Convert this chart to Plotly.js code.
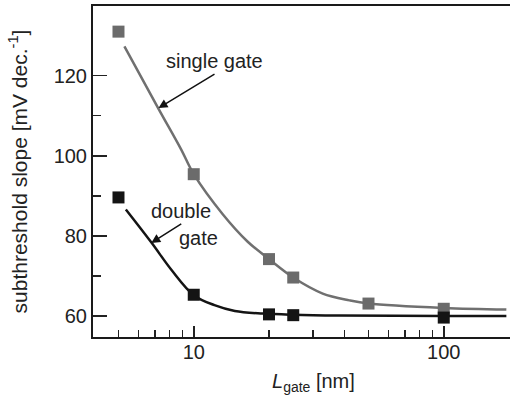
<!DOCTYPE html>
<html>
<head>
<meta charset="utf-8">
<script src="https://cdn.plot.ly/plotly-3.0.1.min.js"></script>
<style>html,body{margin:0;padding:0;background:#fff;}#chart{width:512px;height:395px;}</style>
</head>
<body>
<div id="chart"></div>
<script>
// Measured points (gate length in nm, subthreshold slope in mV/dec)
const singleGateL = [5, 10, 20, 25, 50, 100];
const singleGateS = [131, 95.4, 74.2, 69.6, 63.1, 61.8];
const doubleGateL = [5, 10, 20, 25, 100];
const doubleGateS = [89.6, 65.3, 60.4, 60.2, 59.6];

// Fitted curves
const singleFitL = [5.28, 7.25, 8.9, 10, 13.06, 16.4, 20, 25, 32.8, 42, 50, 100, 178];
const singleFitS = [127.3, 111.6, 101.6, 95.4, 85.4, 78.6, 74.2, 69.6, 65.6, 63.9, 63.1, 62.0, 61.6];
const doubleFitL = [5.35, 6.76, 8.12, 10, 12.1, 14.6, 18.9, 25, 38, 100, 178];
const doubleFitS = [86.6, 78.4, 71.6, 65.2, 62.7, 61.25, 60.6, 60.3, 60.1, 60.0, 60.0];

// Axis ticks
const xMajorTicks = [10, 100];
const xMinorTicks = [5, 6, 7, 8, 9, 20, 30, 40, 50, 60, 70, 80, 90];
const yMajorTicks = [60, 80, 100, 120];
const yMinorTicks = [70, 90, 110];

const grayCol = '#6b6b6b';
const blackCol = '#141414';
const fontFam = 'Liberation Sans, Arial, sans-serif';

const traces = [
  {x: singleFitL, y: singleFitS, mode: 'lines', line: {color: '#707070', width: 2.5, shape: 'spline', smoothing: 1}, showlegend: false, hoverinfo: 'skip'},
  {x: singleGateL, y: singleGateS, mode: 'markers', marker: {symbol: 'square', size: 12, color: grayCol}, showlegend: false, name: 'single gate'},
  {x: doubleFitL, y: doubleFitS, mode: 'lines', line: {color: blackCol, width: 2.5, shape: 'spline', smoothing: 1}, showlegend: false, hoverinfo: 'skip'},
  {x: doubleGateL, y: doubleGateS, mode: 'markers', marker: {symbol: 'square', size: 12, color: blackCol}, showlegend: false, name: 'double gate'},
  // carrier for the minor-tick overlay axes
  {x: [], y: [], xaxis: 'x2', yaxis: 'y2', mode: 'markers', showlegend: false, hoverinfo: 'skip'}
];

const xRange = [0.597, 2.265];
const yRange = [54.75, 137.4];
const plotL = 93, plotR = 510;
const layout = {
  width: 512, height: 395,
  margin: {l: plotL, r: 512 - plotR, t: 6, b: 58, pad: 0},
  paper_bgcolor: '#fff', plot_bgcolor: '#fff',
  font: {family: fontFam, size: 20, color: '#222'},
  showlegend: false,
  xaxis: {
    type: 'log', range: xRange,
    tickmode: 'array', tickvals: xMajorTicks, ticktext: xMajorTicks.map(String),
    ticks: 'inside', ticklen: 11, tickwidth: 1.5, tickcolor: '#222',
    ticklabelstandoff: -4,
    showline: true, linecolor: '#1a1a1a', linewidth: 2, mirror: true,
    showgrid: false, zeroline: false,
    tickfont: {size: 20, color: '#222'}
  },
  yaxis: {
    range: yRange,
    tickmode: 'array', tickvals: yMajorTicks, ticktext: yMajorTicks.map(String),
    ticks: 'inside', ticklen: 14, tickwidth: 1.5, tickcolor: '#222',
    showline: true, linecolor: '#1a1a1a', linewidth: 2, mirror: false,
    showgrid: false, zeroline: false,
    tickfont: {size: 20, color: '#222'},
    title: {text: 'subthreshold slope [mV dec.<sup>-1</sup>]', font: {size: 21, color: '#222'}, standoff: 20}
  },
  xaxis2: {
    type: 'log', range: xRange, overlaying: 'x', side: 'bottom', anchor: 'y2',
    tickmode: 'array', tickvals: xMinorTicks, showticklabels: false,
    ticks: 'inside', ticklen: 7, tickwidth: 1.5, tickcolor: '#222',
    showline: false, showgrid: false, zeroline: false
  },
  yaxis2: {
    range: yRange, overlaying: 'y', side: 'left', anchor: 'x2',
    tickmode: 'array', tickvals: yMinorTicks, showticklabels: false,
    ticks: 'inside', ticklen: 8, tickwidth: 1.5, tickcolor: '#222',
    showline: false, showgrid: false, zeroline: false
  },
  annotations: [
    {xref: 'paper', yref: 'paper', x: (313 - plotL) / (plotR - plotL), y: 0, yshift: -45, yanchor: 'middle', xanchor: 'center',
     text: '<i>L</i><sub>gate</sub> [nm]', showarrow: false, font: {size: 20, color: '#222'}},
    {x: 0.859, y: 111.9, text: 'single gate', showarrow: true, ax: 56, ay: -34, xanchor: 'center', yanchor: 'bottom',
     arrowhead: 2, arrowsize: 1.2, arrowwidth: 1.5, arrowcolor: '#111', font: {size: 20, color: '#222'}},
    {x: 0.830, y: 78.25, text: 'double', showarrow: true, ax: 30, ay: -19, xanchor: 'center', yanchor: 'bottom',
     arrowhead: 2, arrowsize: 1.2, arrowwidth: 1.5, arrowcolor: '#111', font: {size: 20, color: '#222'}},
    {x: 1.019, y: 79.55, text: 'gate', showarrow: false, font: {size: 20, color: '#222'}}
  ]
};

Plotly.newPlot('chart', traces, layout, {displayModeBar: false, staticPlot: true});
</script>
</body>
</html>
